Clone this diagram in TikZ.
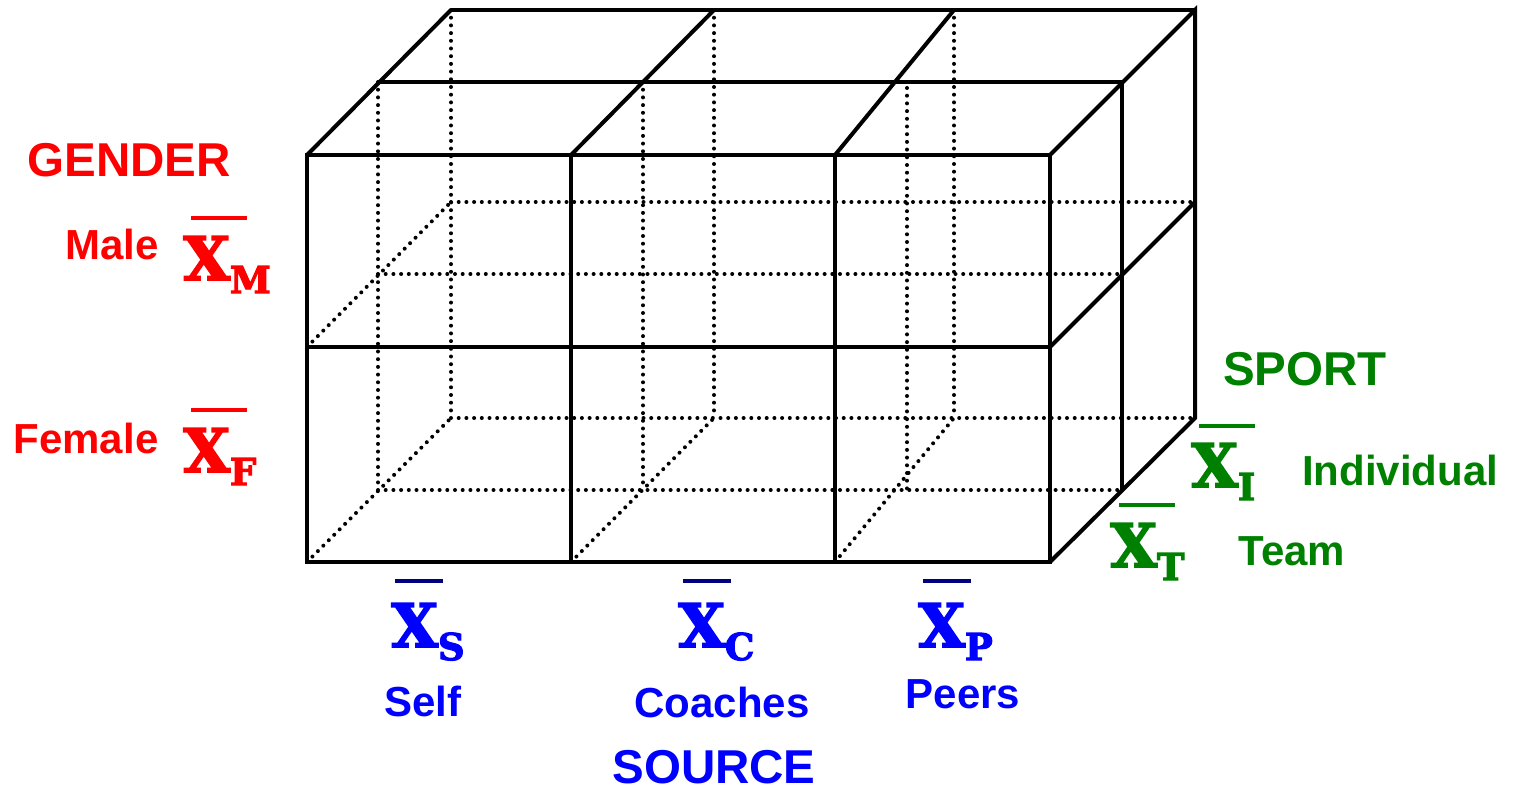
\documentclass[tikz,border=0pt]{standalone}
\usepackage{fontspec}
\setmainfont{Liberation Sans}
\newfontfamily\xfont{DejaVu Serif}[BoldFont={* Bold}, BoldFeatures={FakeBold=3}]
\usetikzlibrary{calc}
\definecolor{cred}{RGB}{255,0,0}
\definecolor{cgreen}{RGB}{0,128,0}
\definecolor{cblue}{RGB}{0,0,255}
\definecolor{cnavy}{RGB}{0,0,128}
\newcommand{\xsub}[1]{X\raisebox{-6.5pt}{\fontsize{18.5}{20}\selectfont #1}}
\begin{document}
\begin{tikzpicture}[x=0.5pt,y=-0.5pt,
  edge/.style={line width=2pt},
  hid/.style={line width=2pt, line cap=round, dash pattern=on 0pt off 3.85pt},
  lbl/.style={inner sep=0pt, anchor=base, font=\bfseries\fontsize{21}{25}\selectfont},
  ttl/.style={inner sep=0pt, anchor=base, font=\bfseries\fontsize{23.75}{28}\selectfont},
  xbar/.style={inner sep=0pt, anchor=base west, font=\xfont\bfseries\fontsize{30}{36}\selectfont},
  barline/.style={line width=1.6pt}
]
\useasboundingbox (0,0) rectangle (1515,791);
% hidden (dotted) edges
\draw[hid] (378,274) -- (1122,274);
\draw[hid] (451,202) -- (1195,202);
\draw[hid] (378,490) -- (1122,490);
\draw[hid] (451,418) -- (1195,418);
\draw[hid] (378,82) -- (378,490);
\draw[hid] (643,82) -- (643,490);
\draw[hid] (907,88) -- (907,490);
\draw[hid] (451,10) -- (451,418);
\draw[hid] (714,10) -- (714,418);
\draw[hid] (954,10) -- (954,418);
\draw[hid] (307,347) -- (451,202);
\draw[hid] (307,562) -- (451,418);
\draw[hid] (571,562) -- (714,418);
\draw[hid] (835,562) -- (954,418);
% visible edges
\draw[edge] (307,155) rectangle (1050,562);
\draw[edge] (307,347) -- (1050,347);
\draw[edge] (571,155) -- (571,562);
\draw[edge] (835,155) -- (835,562);
\draw[edge] (378,82) -- (1122,82);
\draw[edge] (451,10) -- (1195,10);
\draw[edge] (307,155) -- (451,10);
\draw[edge] (571,155) -- (714,10);
\draw[edge] (835,155) -- (954,10);
\draw[edge] (1050,155) -- (1195,10) -- (1195,418) -- (1050,562);
\draw[edge] (1050,347) -- (1195,202);
\draw[edge] (1122,82) -- (1122,490);
% gender
\node[ttl, text=cred] (gender) at (129,177) {GENDER};
\node[lbl, text=cred] (male) at (112,260) {Male};
\node[lbl, text=cred] (female) at (86,453) {Female};
\node[xbar, text=cred] (xm) at (183,280) {\xsub{M}};
\node[xbar, text=cred] (xf) at (183,472) {\xsub{F}};
\draw[barline, cred] ($(xm.base west)+(8,-62)$) -- ++(56,0);
\draw[barline, cred] ($(xf.base west)+(8,-62)$) -- ++(56,0);
% sport
\node[ttl, text=cgreen] (sport) at (1305,385) {SPORT};
\node[lbl, text=cgreen] (indiv) at (1400,485) {Individual};
\node[lbl, text=cgreen] (team) at (1292,565) {Team};
\node[xbar, text=cgreen] (xi) at (1191,487) {\xsub{I}};
\node[xbar, text=cgreen] (xt) at (1110,567) {\xsub{T}};
\draw[barline, cgreen] ($(xi.base west)+(8,-61)$) -- ++(56,0);
\draw[barline, cgreen] ($(xt.base west)+(9,-62)$) -- ++(56,0);
% source
\node[xbar, text=cblue] (xs) at (391,647) {\xsub{S}};
\node[xbar, text=cblue] (xc) at (678,647) {\xsub{C}};
\node[xbar, text=cblue] (xp) at (918,647) {\xsub{P}};
\draw[barline, cnavy, line width=1.8pt] ($(xs.base west)+(4,-66)$) -- ++(48,0);
\draw[barline, cnavy, line width=1.8pt] ($(xc.base west)+(5,-66)$) -- ++(48,0);
\draw[barline, cnavy, line width=1.8pt] ($(xp.base west)+(5,-66)$) -- ++(48,0);
\node[lbl, text=cblue] (self) at (423,716) {Self};
\node[lbl, text=cblue] (coaches) at (722,717) {Coaches};
\node[lbl, text=cblue] (peers) at (963,708) {Peers};
\node[ttl, text=cblue] (source) at (714,783) {SOURCE};
\end{tikzpicture}
\end{document}
